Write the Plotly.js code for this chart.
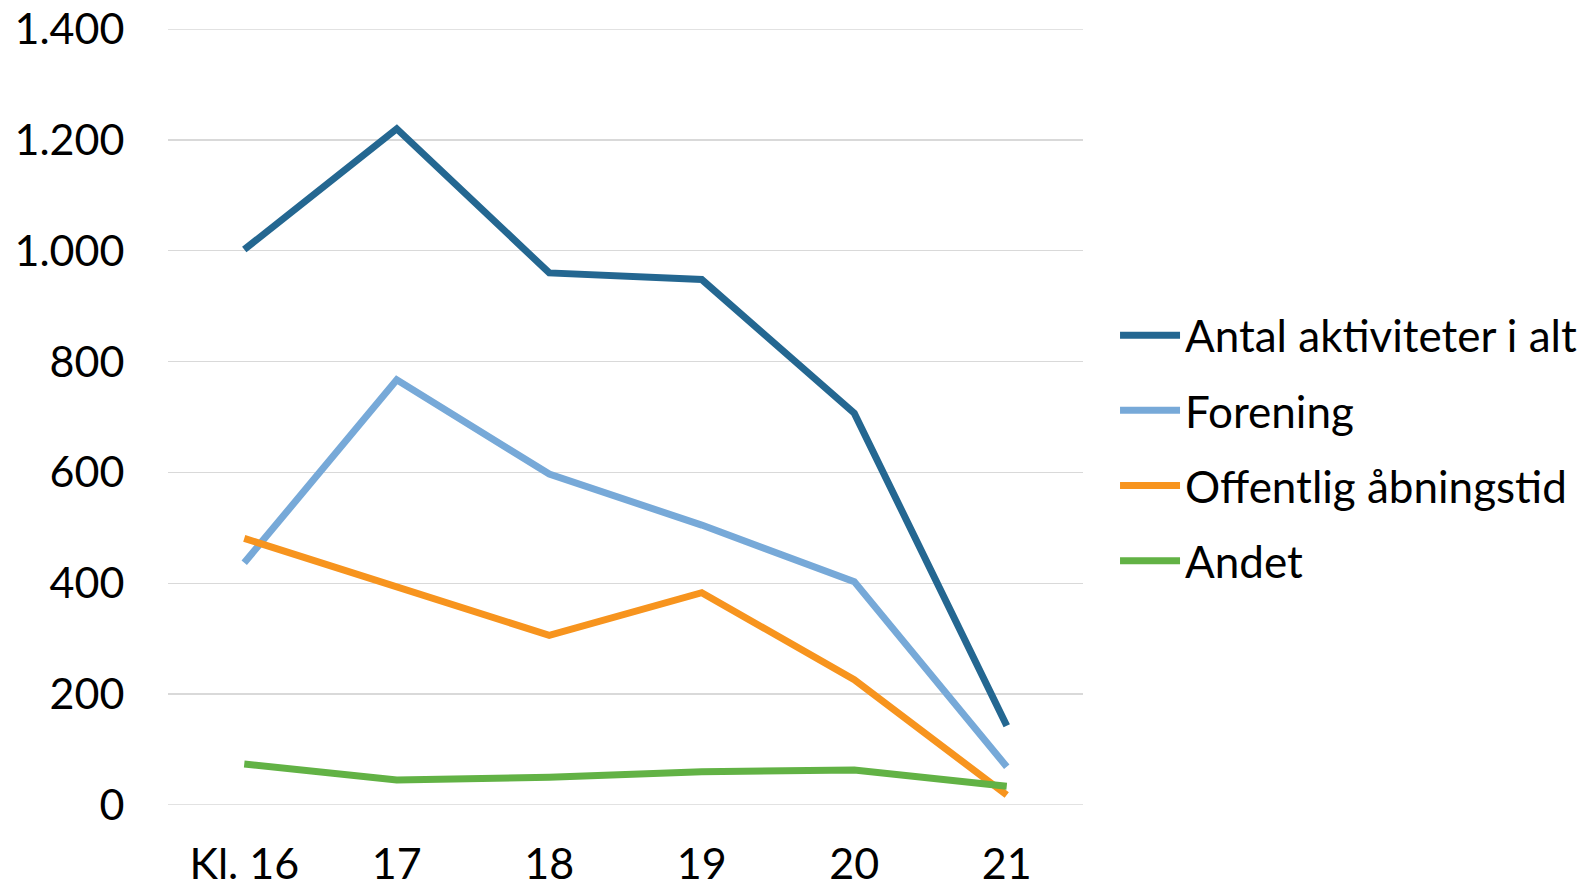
<!DOCTYPE html>
<html>
<head>
<meta charset="utf-8">
<script src="https://cdn.plot.ly/plotly-3.0.1.min.js"></script>
<style>html,body{margin:0;padding:0;background:#fff;}#chart{width:1585px;height:888px;}</style>
</head>
<body>
<div id="chart"></div>
<script>
const categories = ["Kl. 16", "17", "18", "19", "20", "21"];
const seriesNames = ["Antal aktiviteter i alt", "Forening", "Offentlig åbningstid", "Andet"];
const antal = [1002, 1220, 960, 948, 707, 143];
const forening = [437, 767, 597, 505, 403, 69];
const offentlig = [481, 392, 306, 383, 226, 18];
const andet = [74, 45, 50, 60, 63, 34];
const yTicks = [0, 200, 400, 600, 800, 1000, 1200, 1400];

const colors = ["#246791", "#77A9D8", "#F7941E", "#62B245"];
const values = [antal, forening, offentlig, andet];

const traces = values.map((v, i) => ({
  type: "scatter",
  mode: "lines",
  x: categories,
  y: v,
  name: seriesNames[i],
  legendgroup: "g" + i,
  line: {color: colors[i], width: 7, shape: "linear"},
  hoverinfo: "x+y+name"
}));

const FONT = "Lato, 'Open Sans', sans-serif";

const layout = {
  width: 1585,
  height: 888,
  paper_bgcolor: "#ffffff",
  plot_bgcolor: "#ffffff",
  separators: ",.",
  font: {family: FONT, size: 43, color: "#000000"},
  margin: {l: 168, r: 502, t: 29, b: 83, pad: 0, autoexpand: false},
  showlegend: true,
  legend: {
    x: 1.035, xanchor: "left",
    y: 0.46, yanchor: "middle",
    font: {family: FONT, size: 44, color: "#000000"},
    bgcolor: "rgba(0,0,0,0)",
    tracegroupgap: 15,
    itemwidth: 60,
    traceorder: "grouped"
  },
  xaxis: {
    type: "category",
    range: [-0.5, 5.5],
    showgrid: false,
    zeroline: false,
    showline: false,
    ticks: "outside",
    ticklen: 21,
    tickcolor: "rgba(0,0,0,0)",
    tickfont: {family: FONT, size: 43, color: "#000000"},
    fixedrange: true
  },
  yaxis: {
    range: [0, 1400],
    tickvals: yTicks,
    tickformat: ",d",
    showgrid: true,
    gridcolor: "#D9D9D9",
    gridwidth: 1.4,
    zeroline: false,
    showline: false,
    ticks: "outside",
    ticklen: 34,
    tickcolor: "rgba(0,0,0,0)",
    tickfont: {family: FONT, size: 43, color: "#000000"},
    fixedrange: true
  },
  shapes: [
    {type: "line", xref: "paper", yref: "y", x0: 0, x1: 1, y0: 0, y1: 0,
     line: {color: "#D9D9D9", width: 1.4}, layer: "below"},
    {type: "line", xref: "paper", yref: "y", x0: 0, x1: 1, y0: 1400, y1: 1400,
     line: {color: "#D9D9D9", width: 1.4}, layer: "below"}
  ]
};

Plotly.newPlot("chart", traces, layout, {displayModeBar: false, staticPlot: true});
</script>
</body>
</html>
